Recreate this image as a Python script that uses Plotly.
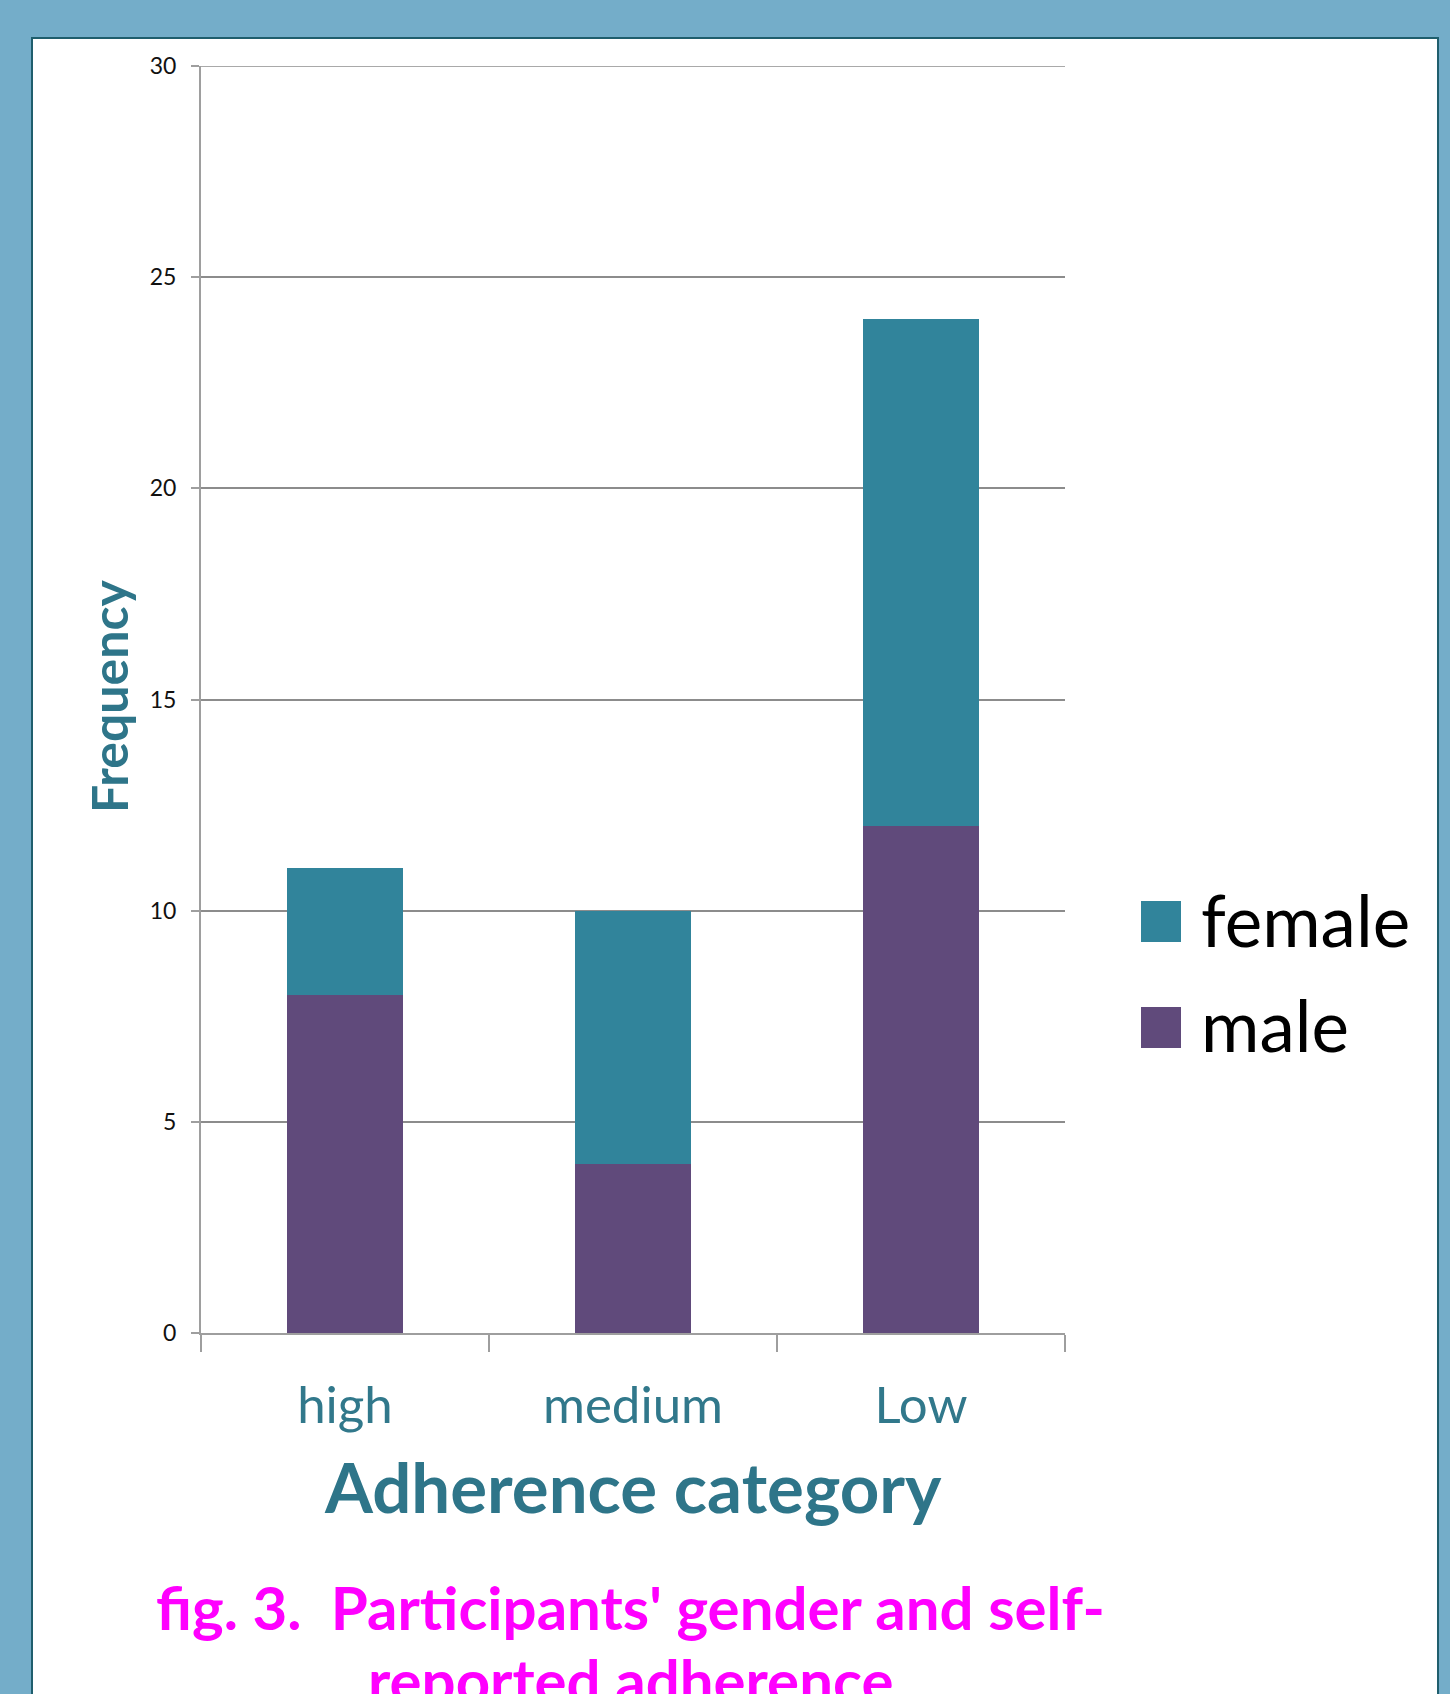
import plotly.graph_objects as go

# Data: participants by self-reported adherence category and gender
categories = ["high", "medium", "Low"]
male = [8, 4, 12]
female = [3, 6, 12]
series_names = ["female", "male"]
y_ticks = [0, 5, 10, 15, 20, 25, 30]

W, H = 1450, 1694
# plot-area edges in pixels
L, R, T, B = 201, 1065, 66, 1333

FEMALE_COLOR = "#31849B"
MALE_COLOR = "#604A7B"
TEAL_TEXT = "#2E7589"
FONT = "Lato"


def px_x(x):
    return (x - L) / (R - L)


def px_y(y):
    return (B - y) / (B - T)


fig = go.Figure()
fig.add_trace(go.Bar(x=categories, y=male, name=series_names[1],
                     marker=dict(color=MALE_COLOR, line=dict(width=0))))
fig.add_trace(go.Bar(x=categories, y=female, name=series_names[0],
                     marker=dict(color=FEMALE_COLOR, line=dict(width=0))))

shapes = [
    # white panel with a dark teal frame
    dict(type="rect", xref="paper", yref="paper", layer="below",
         x0=px_x(32), x1=px_x(1438), y0=px_y(1720), y1=px_y(38),
         fillcolor="white", line=dict(color="#1F5E6D", width=2)),
    # top gridline at 30
    dict(type="line", xref="paper", yref="y", layer="below",
         x0=0, x1=1, y0=y_ticks[-1], y1=y_ticks[-1],
         line=dict(color="#8C8C8C", width=1.5)),
]

# legend swatches
legend_items = [(series_names[0], FEMALE_COLOR, 901, 942, 919),
                (series_names[1], MALE_COLOR, 1007, 1048, 1024)]
annotations = []
for name, color, y0, y1, ty in legend_items:
    shapes.append(dict(type="rect", xref="paper", yref="paper",
                       x0=px_x(1141), x1=px_x(1181), y0=px_y(y1), y1=px_y(y0),
                       fillcolor=color, line=dict(width=0)))
    annotations.append(dict(text=name, xref="paper", yref="paper",
                            x=px_x(1199), y=px_y(ty), xanchor="left", yanchor="middle",
                            showarrow=False, font=dict(family=FONT, size=71, color="black")))

# axis titles and figure caption
annotations += [
    dict(text="<b>Frequency</b>", xref="paper", yref="paper",
         x=px_x(109), y=px_y(697), xanchor="center", yanchor="middle",
         textangle=-90, showarrow=False,
         font=dict(family=FONT, size=50, color=TEAL_TEXT)),
    dict(text="<b>Adherence category</b>", xref="paper", yref="paper",
         x=px_x(633), y=px_y(1486), xanchor="center", yanchor="middle",
         showarrow=False, font=dict(family=FONT, size=69, color=TEAL_TEXT)),
    dict(text="<b>fig. 3.  Participants' gender and self-</b>",
         xref="paper", yref="paper", x=px_x(630), y=px_y(1607),
         xanchor="center", yanchor="middle", showarrow=False,
         font=dict(family=FONT, size=60, color="#FF00FF")),
    dict(text="<b>reported adherence</b>",
         xref="paper", yref="paper", x=px_x(630), y=px_y(1680),
         xanchor="center", yanchor="middle", showarrow=False,
         font=dict(family=FONT, size=60, color="#FF00FF")),
]

fig.update_layout(
    width=W, height=H,
    margin=dict(l=L, r=W - R, t=T, b=H - B, pad=0),
    paper_bgcolor="#74ADC9",
    plot_bgcolor="rgba(0,0,0,0)",
    barmode="stack",
    bargap=0.6,
    showlegend=False,
    shapes=shapes,
    annotations=annotations,
    font=dict(family=FONT),
)

fig.update_xaxes(
    type="category",
    showgrid=False,
    showline=True, linecolor="#9E9E9E", linewidth=2,
    ticks="outside", tickson="boundaries", ticklen=17, tickwidth=1.5, tickcolor="#9E9E9E",
    ticklabelstandoff=27,
    tickfont=dict(family=FONT, size=51, color="#31788B"),
)

fig.update_yaxes(
    range=[0, 30],
    tickvals=y_ticks,
    showgrid=True, gridcolor="#8C8C8C", gridwidth=1.5,
    zeroline=False,
    showline=True, linecolor="#9E9E9E", linewidth=2,
    ticks="outside", ticklen=8, tickwidth=1.5, tickcolor="#9E9E9E",
    ticklabelstandoff=10,
    tickfont=dict(family=FONT, size=23, color="#111111"),
)

fig.write_html("out.html")
